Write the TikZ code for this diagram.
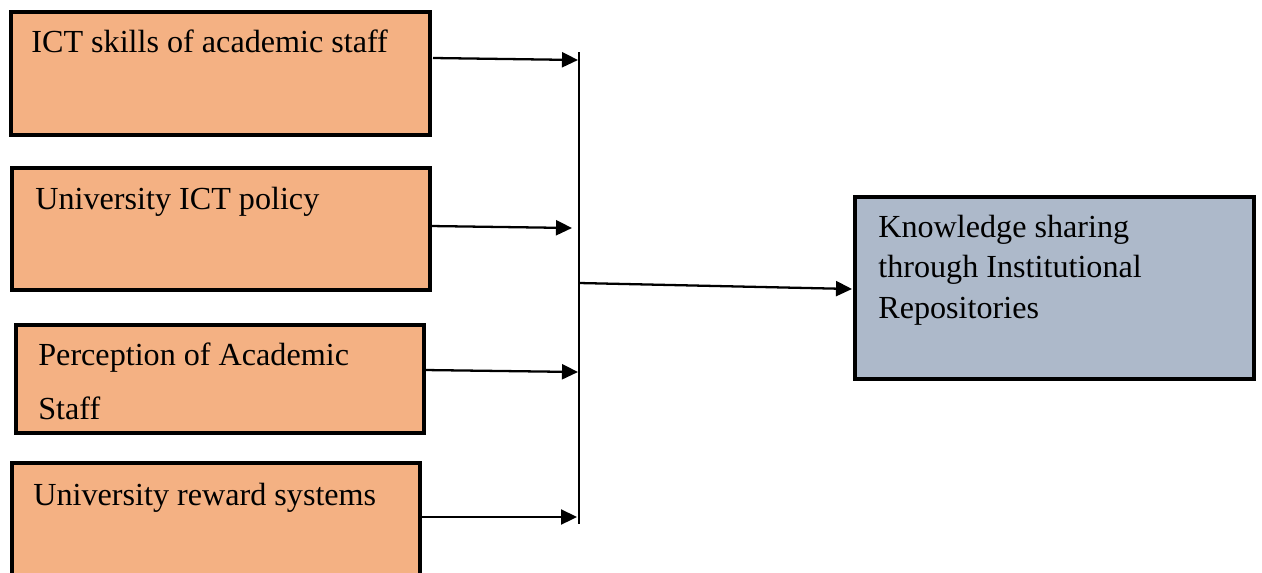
\documentclass[tikz,border=0pt]{standalone}
\usepackage{fontspec}
\setmainfont{Liberation Serif}
\usetikzlibrary{arrows.meta}
\definecolor{boxorange}{HTML}{F4B183}
\definecolor{boxblue}{HTML}{ADB9CA}
\begin{document}
\begin{tikzpicture}[x=0.02cm,y=-0.02cm,
  inbox/.style={draw=black, line width=2pt, fill=boxorange},
  outbox/.style={draw=black, line width=2pt, fill=boxblue},
  lbl/.style={inner sep=0pt, anchor=base west, font=\fontsize{18.3}{22.8}\selectfont, align=left},
  arr/.style={line width=1.3pt, -{Triangle[length=0.32cm,width=0.3cm]}},
  bus/.style={line width=0.9pt}]
\useasboundingbox (0,0) rectangle (1262,572);
\clip (0,0) rectangle (1262,572);
% boxes
\path[inbox] (11,12) rectangle (430,135) node[pos=0.5] (b1) {};
\path[inbox] (12,168) rectangle (430,290) node[pos=0.5] (b2) {};
\path[inbox] (16,325) rectangle (424,433) node[pos=0.5] (b3) {};
\path[inbox] (12,463) rectangle (420,600) node[pos=0.5] (b4) {};
\path[outbox] (855,197) rectangle (1254,379) node[pos=0.5] (out) {};
% labels
\node[lbl] (t1) at (31,52) {ICT skills of academic staff};
\node[lbl] (t2) at (35,209) {University ICT policy};
\node[lbl] (t3a) at (38,365) {Perception of Academic};
\node[lbl] (t3b) at (38,419) {Staff};
\node[lbl] (t4) at (33,505) {University reward systems};
\node[lbl] (t5) at (878,318) {Knowledge sharing\\through Institutional\\Repositories};
% bus
\coordinate (bt) at (579,52);
\coordinate (bb) at (579,524);
\draw[bus] (bt) -- (bb);
\coordinate (s1) at (433,58);  \coordinate (e1) at (578,60);
\coordinate (s2) at (430,226); \coordinate (e2) at (572,228);
\coordinate (s3) at (424,370); \coordinate (e3) at (578,372);
\coordinate (s4) at (420,517); \coordinate (e4) at (577,517);
\coordinate (s5) at (579,283); \coordinate (e5) at (852,289);
\draw[arr] (s1) -- (e1);
\draw[arr] (s2) -- (e2);
\draw[arr] (s3) -- (e3);
\draw[arr] (s4) -- (e4);
\draw[arr] (s5) -- (e5);
\end{tikzpicture}
\end{document}
